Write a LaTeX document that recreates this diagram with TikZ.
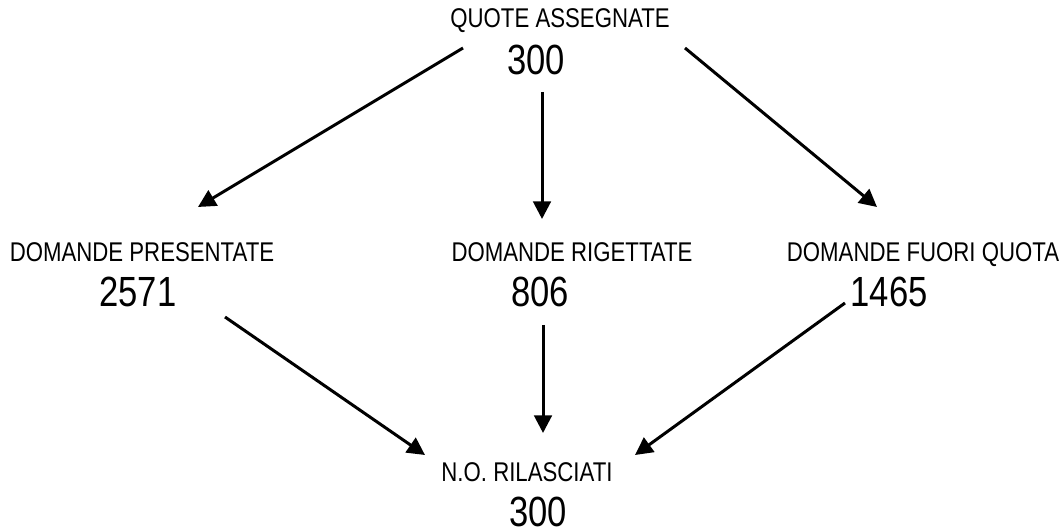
\documentclass[tikz,border=0pt]{standalone}
\usepackage{fontspec}
\setmainfont[FakeStretch=0.82]{Liberation Sans}
\usetikzlibrary{arrows.meta}

\tikzset{
  lbl/.style={anchor=base,inner sep=0pt,font=\fontsize{7.7}{9}\selectfont},
  num/.style={anchor=base,inner sep=0pt,font=\fontsize{12}{14}\selectfont},
  arr/.style={line width=0.85pt,-{Triangle[length=5pt,width=5pt]}}
}

\begin{document}
\begin{tikzpicture}[x=0.01cm,y=-0.01cm]
               \useasboundingbox (0,0) rectangle (1064,531);
               \node[lbl] (quotetitle) at (560,28) {QUOTE ASSEGNATE};
               \node[num] (quotenum) at (536,75) {300};
               \node[lbl] (prestitle) at (142,262) {DOMANDE PRESENTATE};
               \node[num] (presnum) at (138,307) {2571};
               \node[lbl] (rigtitle) at (572,262) {DOMANDE RIGETTATE};
               \node[num] (rignum) at (540,307) {806};
               \node[lbl] (fuorititle) at (923,262) {DOMANDE FUORI QUOTA};
               \node[num] (fuorinum) at (889,307) {1465};
               \node[lbl] (nostitle) at (527,482) {N.O. RILASCIATI};
               \node[num] (nosnum) at (538,527) {300};
               \coordinate (quoteL) at (463,48);
               \coordinate (quoteM) at (542,92);
               \coordinate (quoteR) at (685,48);
               \coordinate (presin) at (198,207);
               \coordinate (rigin) at (542,219);
               \coordinate (fuoriin) at (877,207);
               \coordinate (presout) at (225,317);
               \coordinate (rigout) at (543,325);
               \coordinate (fuoriout) at (845,303);
               \coordinate (nosL) at (425,455);
               \coordinate (nosM) at (543,433);
               \coordinate (nosR) at (635,455);
               \draw[arr] (quoteL) -- (presin);
               \draw[arr] (quoteM) -- (rigin);
               \draw[arr] (quoteR) -- (fuoriin);
               \draw[arr] (presout) -- (nosL);
               \draw[arr] (rigout) -- (nosM);
               \draw[arr] (fuoriout) -- (nosR);
            \end{tikzpicture}
\end{document}
